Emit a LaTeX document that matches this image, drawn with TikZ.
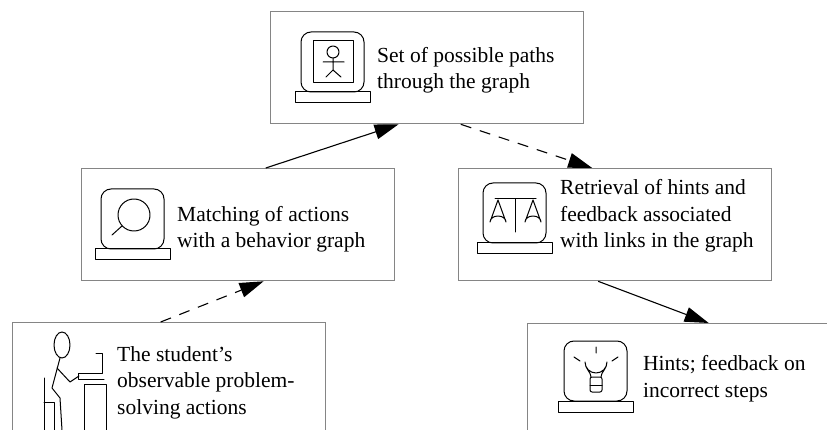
\documentclass[tikz,border=0pt]{standalone}
\usepackage{fontspec}
\setmainfont{Liberation Serif}
\usetikzlibrary{arrows.meta,calc}

\tikzset{
  panel/.style={draw=black!48, line width=1.3pt, minimum width=313pt,
    minimum height=112pt, anchor=north west, inner sep=0pt},
  % captions are placed by the baseline of their last line
  caption/.style={anchor=base west, align=left, inner sep=0pt,
    font=\fontsize{21.5}{26.5}\selectfont},
  glyph/.style={draw=black, line width=1pt, line join=round, line cap=round},
  link/.style={line width=1.1pt, -{Triangle[length=24pt,width=15pt]}},
  dashlink/.style={link, dash pattern=on 11pt off 9pt},
  monitor/.pic={
    \draw[glyph, rounded corners=10pt] (0,0) rectangle (63,60);
    \draw[glyph] (-6,60) rectangle (69,71);
  }
}

\begin{document}
\begin{tikzpicture}[x=1pt,y=-1pt]
\path[use as bounding box] (0,0) rectangle (827,430);
\clip (0,0) rectangle (827,430);

% panels
\node[panel] (paths) at (270,11) {};
\node[panel] (match) at (81,168) {};
\node[panel] (retr)  at (458,168) {};
\node[panel, minimum height=150pt] (stud)  at (12,322) {};
\node[panel, minimum height=150pt] (hint)  at (527,323) {};

% captions
\node[caption] (tpaths) at (377,89) {Set of possible paths\\through the graph};
\node[caption] (tmatch) at (177,248) {Matching of actions\\with a behavior graph};
\node[caption] (tretr)  at (560,248) {Retrieval of hints and\\feedback associated\\with links in the graph};
\node[caption] (tstud)  at (117,414) {The student’s\\observable problem-\\solving actions};
\node[caption] (thint)  at (643,397) {Hints; feedback on\\incorrect steps};

% icon: screen with a stick figure
\pic at (301,32) {monitor};
\draw[glyph] (313,41) rectangle (353,83);
\draw[glyph] (333,52) circle[radius=6];
\draw[glyph] (333,58) -- (333,70) (323,62) -- (344,62)
  (326,77) -- (333,70) -- (341,77);

% icon: magnifying glass
\pic at (101,189) {monitor};
\draw[glyph] (134,215) circle[radius=16];
\draw[glyph] (122,226) -- (112,235);

% icon: balance scales
\pic at (483,183) {monitor};
\draw[glyph] (495,199) -- (536,199) (515.5,199) -- (515.5,232);
\draw[glyph] (490,222) -- (498,200) -- (506,222) arc[start angle=0, end angle=-180, x radius=8, y radius=6];
\draw[glyph] (525,222) -- (533,200) -- (541,222) arc[start angle=0, end angle=-180, x radius=8, y radius=6];

% icon: light bulb
\pic at (564,341) {monitor};
\draw[glyph] (591,377) .. controls (591,372) and (585,369) .. (585,362)
  arc[start angle=180, end angle=0, radius=11]
  .. controls (607,369) and (601,372) .. (601,377);
\draw[glyph, rounded corners=2pt] (590,377) rectangle (602,392);
\draw[glyph] (590,385) -- (602,385);
\draw[glyph] (596,347) -- (596,353) (574,357) -- (580,361) (618,357) -- (612,361);

% icon: student seated at a computer
\draw[glyph] (62,345) ellipse[x radius=8, y radius=13];
\draw[glyph] (60,358) -- (52,388) -- (60,398) -- (62,430);
\draw[glyph] (57,368) -- (70,382) -- (79,376);
\draw[glyph] (44,378) -- (44,430) (44,402) -- (54,402) -- (54,430);
\draw[glyph] (96,353) -- (102,353) -- (102,373) -- (78,373) -- (78,379) -- (104,379);
\draw[glyph] (84,430) -- (84,384) -- (106,384) -- (106,430);

% connectors
\coordinate (m1) at ($(match.north west)!0.588!(match.north east)$);
\coordinate (p1) at ($(paths.south west)!0.409!(paths.south east)$);
\coordinate (p2) at ($(paths.south west)!0.607!(paths.south east)$);
\coordinate (r1) at ($(retr.north west)!0.427!(retr.north east)$);
\coordinate (r2) at ($(retr.south west)!0.446!(retr.south east)$);
\coordinate (h1) at ($(hint.north west)!0.578!(hint.north east)$);
\coordinate (s1) at ($(stud.north west)!0.473!(stud.north east)$);
\coordinate (m2) at ($(match.south west)!0.581!(match.south east)$);

\draw[link] (m1) -- (p1);
\draw[dashlink] (p2) -- (r1);
\draw[link] (r2) -- (h1);
\draw[dashlink] (s1) -- (m2);
\end{tikzpicture}
\end{document}
